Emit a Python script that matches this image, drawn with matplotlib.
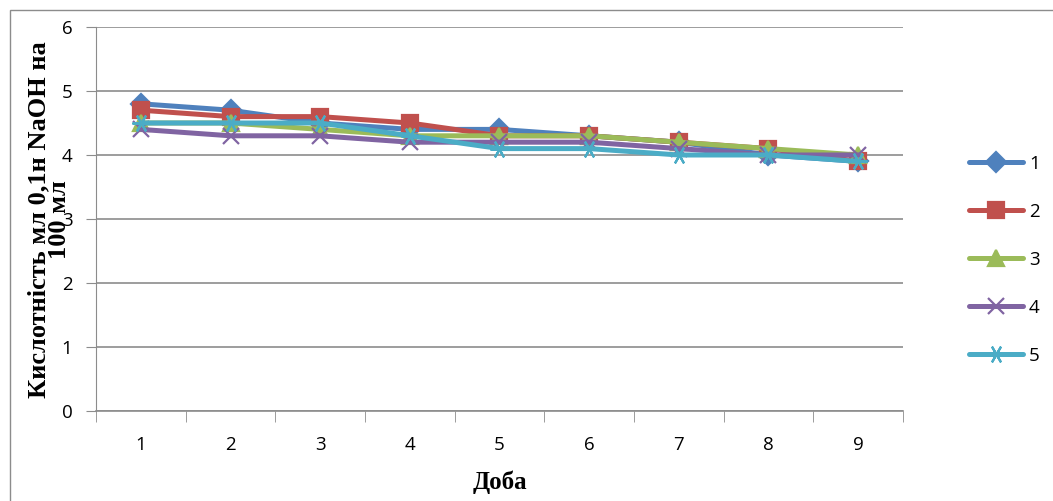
import matplotlib
matplotlib.use("Agg")
import matplotlib.pyplot as plt
from matplotlib.patches import Rectangle

days = [1, 2, 3, 4, 5, 6, 7, 8, 9]
series_names = ["1", "2", "3", "4", "5"]
s1 = [4.8, 4.7, 4.5, 4.4, 4.4, 4.3, 4.2, 4.0, 3.9]
s2 = [4.7, 4.6, 4.6, 4.5, 4.3, 4.3, 4.2, 4.1, 3.9]
s3 = [4.5, 4.5, 4.4, 4.3, 4.3, 4.3, 4.2, 4.1, 4.0]
s4 = [4.4, 4.3, 4.3, 4.2, 4.2, 4.2, 4.1, 4.0, 4.0]
s5 = [4.5, 4.5, 4.5, 4.3, 4.1, 4.1, 4.0, 4.0, 3.9]
y_ticks = [0, 1, 2, 3, 4, 5, 6]

colors = ["#4F81BD", "#C0504D", "#9BBB59", "#8064A2", "#4BACC6"]
markers = ["D", "s", "^", "x", (6, 2, 90)]
msizes = [10, 11, 11, 12, 13]

tick_font = ["Open Sans", "DejaVu Sans"]
title_font = ["Liberation Serif", "DejaVu Serif"]

fig = plt.figure(figsize=(10.53, 5.01), dpi=100)
ax = fig.add_axes([96 / 1053, 1 - 411 / 501, (903 - 96) / 1053, (411 - 27) / 501])

# outer chart border
fig.patches.append(Rectangle((10 / 1053, -0.05), 1.1, 1 - 10 / 501 + 0.05,
                             transform=fig.transFigure, fill=False,
                             edgecolor="#8c8c8c", linewidth=1.0))

for vals, name, c, m, ms in zip([s1, s2, s3, s4, s5], series_names, colors, markers, msizes):
    ax.plot(days, vals, color=c, linewidth=3.6, marker=m, markersize=ms,
            markeredgewidth=1.6, markeredgecolor=c, markerfacecolor=c,
            label=name, solid_capstyle="round")

ax.set_xlim(0.5, 9.5)
ax.set_ylim(0, 6)
ax.set_yticks(y_ticks)
ax.set_xticks(days)
ax.grid(axis="y", color="#8c8c8c", linewidth=1.2)
ax.set_axisbelow(True)
for side in ("top", "right"):
    ax.spines[side].set_visible(False)
ax.spines["left"].set_color("#8c8c8c")
ax.spines["bottom"].set_color("#8c8c8c")
ax.spines["bottom"].set_linewidth(1.2)

ax.tick_params(axis="x", which="major", length=0, pad=18)
ax.set_xticks([d + 0.5 for d in [0] + days], minor=True)
ax.tick_params(axis="x", which="minor", length=8, color="#8c8c8c", direction="out")
ax.tick_params(axis="y", length=7, color="#8c8c8c", pad=10)
for lbl in ax.get_xticklabels() + ax.get_yticklabels():
    lbl.set_family(tick_font)
    lbl.set_fontsize(13.5)

ax.set_xlabel("Доба", family=title_font, fontsize=18, fontweight="bold", labelpad=12)
fig.text(49 / 1053, 1 - 220 / 501, "Кислотність мл 0,1н NaOH на\n100 мл", rotation=90,
         ha="center", va="center", family=title_font, fontsize=19, fontweight="bold",
         linespacing=0.85)

fig.legend(loc="center left", bbox_to_anchor=(952 / 1053, 1 - 260 / 501),
           frameon=False, prop={"family": tick_font, "size": 13.5},
           handlelength=2.9, handletextpad=0.3, labelspacing=1.6)

fig.savefig("out.png", dpi=100)
